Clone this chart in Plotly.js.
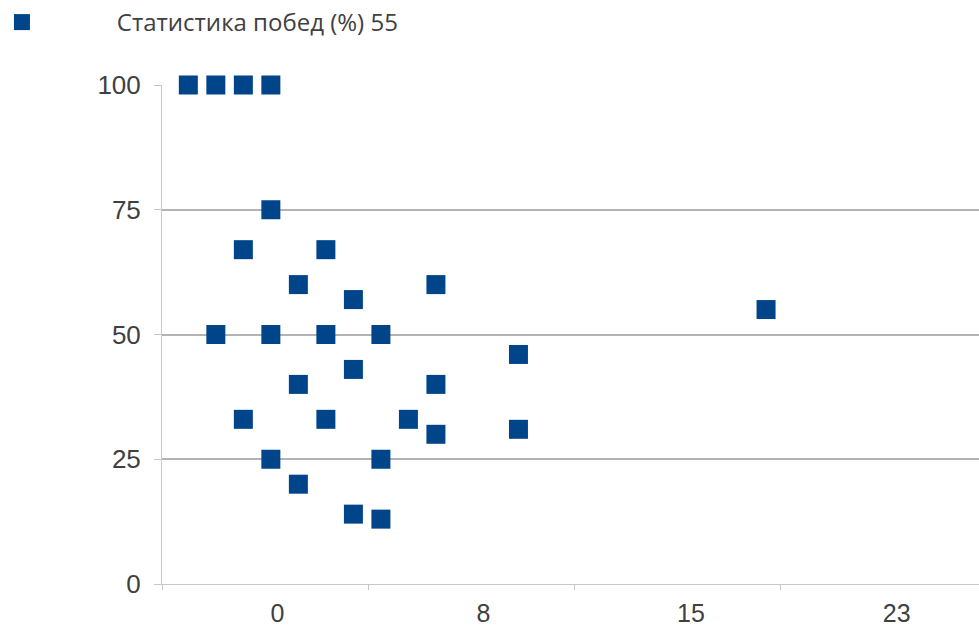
<!DOCTYPE html>
<html>
<head>
<meta charset="utf-8">
<script src="https://cdn.plot.ly/plotly-3.0.1.min.js"></script>
<style>html,body{margin:0;padding:0;background:#fff;}#chart{width:979px;height:628px;}</style>
</head>
<body>
<div id="chart"></div>
<script>
// Data
var seriesName = "Статистика побед (%) 55";
var xValues = [-3, -2, -1, 0, 0, -1, 2, 1, 6, 3, 18, -2, 0, 2, 4, 9, 3, 1, 6, -1, 2, 5, 6, 9, 0, 4, 1, 3, 4];
var yValues = [100, 100, 100, 100, 75, 67, 67, 60, 60, 57, 55, 50, 50, 50, 50, 46, 43, 40, 40, 33, 33, 33, 30, 31, 25, 25, 20, 14, 13];
var xTickLabels = ["0", "8", "15", "23"];
var yTickValues = [0, 25, 50, 75, 100];

var xRange = [-3.957, 25.74];
var xLabelPositions = [0.243, 7.73, 15.27, 22.75];

// legend text sits well to the right of its marker in the reference
var legendPad = new Array(13).join("\u00A0");

var trace = {
  type: "scatter",
  mode: "markers",
  name: legendPad + seriesName,
  x: xValues,
  y: yValues,
  cliponaxis: false,
  marker: {symbol: "square", size: 19, color: "#00458a", line: {width: 0}},
  hoverinfo: "x+y"
};

var layout = {
  width: 979,
  height: 628,
  margin: {l: 162, r: 0, t: 85, b: 44, autoexpand: false},
  paper_bgcolor: "#ffffff",
  plot_bgcolor: "#ffffff",
  font: {family: "Liberation Sans, Arial, sans-serif", color: "#404040", size: 26},
  showlegend: true,
  legend: {
    x: 0.002, y: 1, xref: "container", yref: "container",
    xanchor: "left", yanchor: "top",
    itemwidth: 30,
    font: {family: "Open Sans, sans-serif", size: 24, color: "#404040"},
    bgcolor: "rgba(0,0,0,0)"
  },
  xaxis: {
    range: xRange,
    tickmode: "array",
    tickvals: xLabelPositions,
    ticktext: xTickLabels,
    ticks: "",
    ticklabelstandoff: 7,
    showgrid: false,
    zeroline: false,
    showline: true,
    linecolor: "#c8c8c8",
    linewidth: 1,
    tickfont: {size: 25, color: "#404040"},
    minor: {tickmode: "linear", tick0: -3.957, dtick: 7.49, ticks: "outside", ticklen: 5, tickcolor: "#c8c8c8", tickwidth: 1, showgrid: false},
    fixedrange: true
  },
  yaxis: {
    range: [0, 100],
    tickmode: "array",
    tickvals: yTickValues,
    ticks: "outside",
    ticklen: 7,
    tickcolor: "#c8c8c8",
    tickwidth: 1,
    ticklabelstandoff: 8,
    showgrid: true,
    gridcolor: "#b3b3b3",
    gridwidth: 2,
    zeroline: false,
    showline: true,
    linecolor: "#c8c8c8",
    linewidth: 1,
    tickfont: {size: 26, color: "#404040"},
    fixedrange: true
  }
};

Plotly.newPlot("chart", [trace], layout, {displayModeBar: false, staticPlot: true});
</script>
</body>
</html>
